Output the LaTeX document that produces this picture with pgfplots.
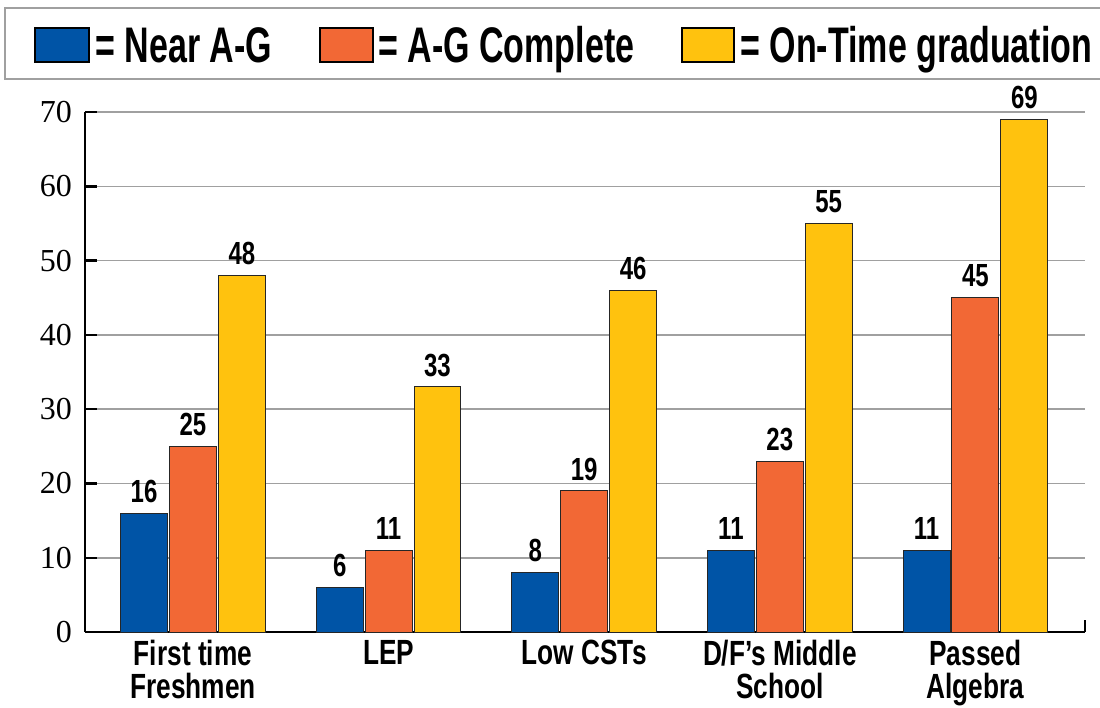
\documentclass[border=0pt]{standalone}
\usepackage{pgfplots}
\pgfplotsset{compat=1.18}
\usepackage{fontspec}
\setmainfont{Liberation Serif}
\newfontfamily\cond[FakeStretch=0.75]{Liberation Sans}
\newfontfamily\condl[FakeStretch=0.68]{Liberation Sans}
\definecolor{cblue}{HTML}{0054A6}
\definecolor{corange}{HTML}{F26835}
\definecolor{cyellow}{HTML}{FFC20E}
\definecolor{gridgray}{HTML}{A0A0A0}
\begin{document}
\begin{tikzpicture}
\begin{axis}[
  at={(0,0)}, anchor=south west, scale only axis,
  width=500pt, height=260pt,
  xmin=-0.552, xmax=4.56, ymin=0, ymax=70,
  ybar, bar width=0.24,
  xtick={0,1,2,3,4},
  xticklabels={{First time\\Freshmen},{LEP},{Low CSTs},{D/F’s Middle\\School},{Passed\\Algebra}},
  xticklabel style={font=\cond\bfseries\fontsize{17.5}{16.5}\selectfont, align=center, yshift=-0.5pt},
  ytick={0,10,...,70},
  yticklabel style={font=\fontsize{16}{16}\selectfont, xshift=-3pt},
  /pgf/number format/assume math mode=true,
  ymajorgrids, grid style={gridgray, line width=0.8pt},
  axis x line*=bottom, axis y line*=left,
  axis line style={-},
  x axis line style={line width=1.4pt},
  y axis line style={line width=1pt},
  tick align=inside, major tick length=6pt,
  xtick style={draw=none},
  ytick style={black, line width=1.2pt},
  nodes near coords,
  nodes near coords style={font=\cond\bfseries\fontsize{16}{16}\selectfont, anchor=south, inner sep=0pt, yshift=5pt, black},
  every axis plot/.append style={draw=black!85, line width=0.5pt},
]
\addplot[fill=cblue, bar shift=-0.25] coordinates {(0,16) (1,6) (2,8) (3,11) (4,11)};
\addplot[fill=corange, bar shift=0] coordinates {(0,25) (1,11) (2,19) (3,23) (4,45)};
\addplot[fill=cyellow, bar shift=0.25] coordinates {(0,48) (1,33) (2,46) (3,55) (4,69)};
\end{axis}
\draw[line width=1.2pt] (500pt,0) -- (500pt,6pt);
% legend
\draw[gridgray, line width=1.2pt] (-40pt,276.5pt) rectangle (515pt,312pt);
\draw[black, line width=0.8pt, fill=cblue] (-25pt,285pt) rectangle (2pt,302pt);
\node[anchor=base west, inner sep=0pt, font=\condl\bfseries\fontsize{25}{25}\selectfont] at (5pt,284.6pt) {= Near A-G};
\draw[black, line width=0.8pt, fill=corange] (117.5pt,285pt) rectangle (144pt,302pt);
\node[anchor=base west, inner sep=0pt, font=\condl\bfseries\fontsize{25}{25}\selectfont] at (146.5pt,284.6pt) {= A-G Complete};
\draw[black, line width=0.8pt, fill=cyellow] (298.5pt,285pt) rectangle (324.5pt,302pt);
\node[anchor=base west, inner sep=0pt, font=\condl\bfseries\fontsize{25}{25}\selectfont] at (327.5pt,284.6pt) {= On-Time graduation};
\pgfresetboundingbox
\path[use as bounding box] (-42.5pt,-38pt) rectangle (507.5pt,316pt);
\end{tikzpicture}
\end{document}
